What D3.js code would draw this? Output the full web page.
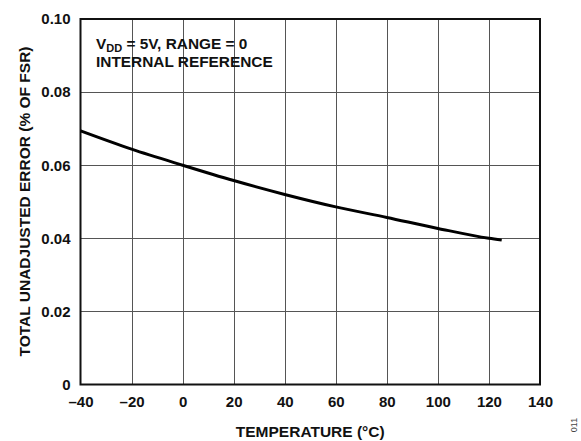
<!DOCTYPE html>
<html>
<head>
<meta charset="utf-8">
<script src="https://cdn.jsdelivr.net/npm/d3@7"></script>
<style>
  html, body { margin: 0; padding: 0; background: #fff; }
  svg { display: block; font-family: "Liberation Sans", Arial, Helvetica, sans-serif; }
</style>
</head>
<body>
<svg id="chart" width="581" height="441"></svg>
<script>
// Total unadjusted error vs temperature
const temperatures = [-40, -20, 0, 20, 40, 60, 80, 100, 120, 125];
const errorValues  = [0.0694, 0.0644, 0.0600, 0.0558, 0.0520, 0.0486, 0.0457, 0.0427, 0.0400, 0.0395];
const xTicks = [-40, -20, 0, 20, 40, 60, 80, 100, 120, 140];
const yTicks = [0, 0.02, 0.04, 0.06, 0.08, 0.10];
const yTickLabels = ["0", "0.02", "0.04", "0.06", "0.08", "0.10"];

const svg = d3.select("#chart");
const m = { left: 80.5, right: 540, top: 19, bottom: 384.5 };

const x = d3.scaleLinear().domain([-40, 140]).range([m.left, m.right]);
const y = d3.scaleLinear().domain([0, 0.10]).range([m.bottom, m.top]);

// grid
const grid = svg.append("g").attr("stroke", "#555").attr("stroke-width", 1);
grid.selectAll("line.v").data(xTicks.slice(1, -1)).join("line")
  .attr("x1", d => Math.round(x(d)) + 0.5).attr("x2", d => Math.round(x(d)) + 0.5)
  .attr("y1", m.top).attr("y2", m.bottom);
grid.selectAll("line.h").data(yTicks.slice(1, -1)).join("line")
  .attr("y1", d => Math.round(y(d)) + 0.5).attr("y2", d => Math.round(y(d)) + 0.5)
  .attr("x1", m.left).attr("x2", m.right);

// frame
svg.append("rect")
  .attr("x", m.left).attr("y", m.top)
  .attr("width", m.right - m.left).attr("height", m.bottom - m.top)
  .attr("fill", "none").attr("stroke", "#111").attr("stroke-width", 2);

// tick labels
const xAxis = d3.axisBottom(x).tickValues(xTicks).tickSize(0).tickPadding(12)
  .tickFormat(d => d < 0 ? "\u2013" + Math.abs(d) : String(d));
const gx = svg.append("g").attr("transform", `translate(0,${m.bottom})`).call(xAxis);
gx.select(".domain").remove();
gx.selectAll("text").attr("font-size", 15).attr("font-weight", "bold").attr("fill", "#111")
  .attr("font-family", "Liberation Sans, Arial, sans-serif");

const yAxis = d3.axisLeft(y).tickValues(yTicks).tickSize(0).tickPadding(10)
  .tickFormat((d, i) => yTickLabels[i]);
const gy = svg.append("g").attr("transform", `translate(${m.left},0)`).call(yAxis);
gy.select(".domain").remove();
gy.selectAll("text").attr("font-size", 15).attr("font-weight", "bold").attr("fill", "#111")
  .attr("font-family", "Liberation Sans, Arial, sans-serif");

// curve
const line = d3.line().x((d, i) => x(temperatures[i])).y(d => y(d)).curve(d3.curveMonotoneX);
svg.append("path").datum(errorValues)
  .attr("d", line).attr("fill", "none").attr("stroke", "#000").attr("stroke-width", 3);

// annotation
const note = svg.append("text").attr("x", 96).attr("y", 48.5)
  .attr("font-size", 15.4).attr("font-weight", "bold").attr("fill", "#111");
note.append("tspan").text("V");
note.append("tspan").text("DD").attr("font-size", 11).attr("dy", 3.5);
note.append("tspan").text(" = 5V, RANGE = 0").attr("dy", -3.5);
svg.append("text").attr("x", 96).attr("y", 66.5)
  .attr("font-size", 15.4).attr("font-weight", "bold").attr("fill", "#111")
  .text("INTERNAL REFERENCE");

// axis titles
svg.append("text").attr("x", (m.left + m.right) / 2).attr("y", 437)
  .attr("text-anchor", "middle").attr("font-size", 15.5).attr("font-weight", "bold").attr("fill", "#111")
  .text("TEMPERATURE (\u00B0C)");
svg.append("text")
  .attr("transform", `translate(30,201.5) rotate(-90)`)
  .attr("text-anchor", "middle").attr("font-size", 15.5).attr("font-weight", "bold").attr("fill", "#111")
  .text("TOTAL UNADJUSTED ERROR (% OF FSR)");

// figure number
svg.append("text")
  .attr("transform", "translate(577,425) rotate(-90)")
  .attr("text-anchor", "middle").attr("font-size", 9).attr("fill", "#444")
  .text("011");
</script>
</body>
</html>
